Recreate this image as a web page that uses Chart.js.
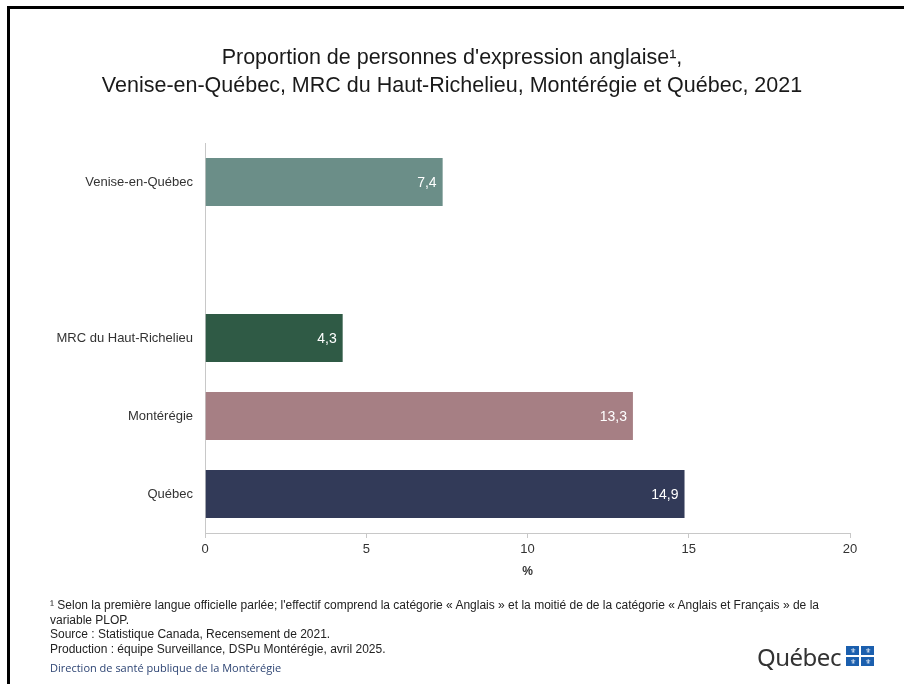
<!DOCTYPE html>
<html lang="fr">
<head>
<meta charset="utf-8">
<title>Proportion de personnes d'expression anglaise</title>
<script src="https://cdn.jsdelivr.net/npm/chart.js@4"></script>
<style>
	html, body { margin: 0; padding: 0; background: #fff; }
	body { width: 904px; height: 684px; position: relative; overflow: hidden; font-family: "Liberation Sans", Arial, sans-serif; }
	#frame { position: absolute; left: 7px; top: 6px; right: -10px; bottom: -10px; border-left: 3px solid #000; border-top: 3px solid #000; }
	#chart { position: absolute; left: 0; top: 0; }
	#title { position: absolute; left: 0; width: 904px; top: 43px; text-align: center; font-family: "Liberation Sans Narrow", "Liberation Sans", sans-serif; font-size: 21.5px; line-height: 28px; color: #1a1a1a; }
	#notes { position: absolute; left: 50px; top: 598px; font-family: "Liberation Sans Narrow", "Liberation Sans", sans-serif; font-size: 12px; line-height: 14.5px; color: #222; }
	#dsp { position: absolute; left: 50px; top: 660px; font-family: "Open Sans", "Noto Sans", sans-serif; font-size: 11px; color: #2e4574; }
	#logo { position: absolute; left: 757px; top: 640px; font-family: "Noto Sans", "Open Sans", sans-serif; font-size: 24px; color: #333; letter-spacing: -0.5px; }
	#flag { position: absolute; left: 846px; top: 646px; width: 30px; height: 20px; }
	#flag span { position: absolute; width: 13px; height: 9px; background: #1b5fae; color: #fff; font-size: 7px; line-height: 9px; text-align: center; }
</style>
</head>
<body>
<div id="frame"></div>
<canvas id="chart" width="904" height="684"></canvas>
<div id="title">Proportion de personnes d'expression anglaise¹,<br>Venise-en-Québec, MRC du Haut-Richelieu, Montérégie et Québec, 2021</div>
<div id="notes">¹ Selon la première langue officielle parlée; l'effectif comprend la catégorie « Anglais » et la moitié de de la catégorie « Anglais et Français » de la<br>variable PLOP.<br>Source : Statistique Canada, Recensement de 2021.<br>Production : équipe Surveillance, DSPu Montérégie, avril 2025.</div>
<div id="dsp">Direction de santé publique de la Montérégie</div>
<div id="logo">Québec</div>
<div id="flag"><span style="left:0;top:0">⚜</span><span style="left:15px;top:0">⚜</span><span style="left:0;top:11px">⚜</span><span style="left:15px;top:11px">⚜</span></div>
<script>
	'use strict';

	// categories (the empty one keeps the gap under Venise-en-Québec)
	var regions = [ 'Venise-en-Québec', '', 'MRC du Haut-Richelieu', 'Montérégie', 'Québec' ];
	var proportions = [ 7.4, null, 4.3, 13.3, 14.9 ];
	var barColors = [ '#6b8e88', '#ffffff', '#2f5a45', '#a67f84', '#323a58' ];
	var xTicks = [ 0, 5, 10, 15, 20 ];

	function fmt( v ) {
		return v.toFixed( 1 ).replace( '.', ',' );
	}

	// white value labels inside the end of each bar
	var valueLabels = {
		id: 'valueLabels',
		afterDatasetsDraw: function ( chart ) {
			var ctx = chart.ctx;
			var meta = chart.getDatasetMeta( 0 );
			ctx.save();
			ctx.font = '14px "Liberation Sans", Arial, sans-serif';
			ctx.fillStyle = '#ffffff';
			ctx.textAlign = 'right';
			ctx.textBaseline = 'middle';
			meta.data.forEach( function ( bar, i ) {
				var v = proportions[ i ];
				if ( v === null ) {
					return;
				}
				ctx.fillText( fmt( v ), bar.x - 7, bar.y + 1 );
			} );
			ctx.restore();
		}
	};

	new Chart( document.getElementById( 'chart' ).getContext( '2d' ), {
		type: 'bar',
		data: {
			labels: regions,
			datasets: [ {
				data: proportions,
				backgroundColor: barColors,
				borderColor: 'rgba(255,255,255,0.25)',
				borderWidth: 1,
				barPercentage: 0.64,
				categoryPercentage: 1
			} ]
		},
		options: {
			indexAxis: 'y',
			responsive: false,
			animation: false,
			layout: { padding: { left: 45, right: 54, top: 143, bottom: 101 } },
			plugins: {
				legend: { display: false },
				tooltip: { enabled: false }
			},
			scales: {
				x: {
					min: 0,
					max: 20,
					afterBuildTicks: function ( scale ) {
						scale.ticks = xTicks.map( function ( v ) { return { value: v }; } );
					},
					afterFit: function ( scale ) { scale.height = 50; },
					grid: { drawOnChartArea: false, drawTicks: true, tickLength: 5, color: '#c8c8c8' },
					border: { color: '#c8c8c8' },
					ticks: { padding: 4, color: '#333', font: { family: 'Liberation Sans', size: 13 } },
					title: { display: true, text: '%', color: '#333', padding: { top: 5 }, font: { family: 'Liberation Sans', size: 12, weight: 'bold' } }
				},
				y: {
					afterFit: function ( scale ) { scale.width = 160; },
					grid: { drawOnChartArea: false, drawTicks: false },
					border: { color: '#c8c8c8' },
					ticks: { padding: 12, color: '#333', font: { family: 'Liberation Sans', size: 13 } }
				}
			}
		},
		plugins: [ valueLabels ]
	} );
</script>
</body>
</html>
